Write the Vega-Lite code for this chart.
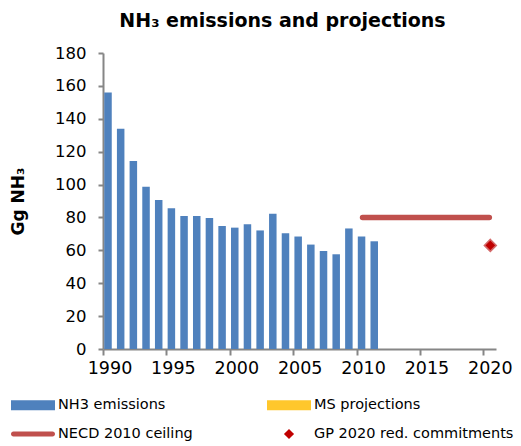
{
  "$schema": "https://vega.github.io/schema/vega-lite/v6.json",
  "autosize": {"type": "none"},
  "padding": {"left": 103, "top": 53, "right": 25, "bottom": 97},
  "width": 393,
  "height": 296,
  "background": "white",
  "title": {
    "text": "NH₃ emissions and projections",
    "font": "DejaVu Sans",
    "fontSize": 19,
    "fontWeight": "bold",
    "color": "black",
    "anchor": "middle",
    "frame": "group",
    "dx": -17,
    "offset": 14
  },
  "config": {
    "view": {"stroke": null},
    "axis": {
      "labelFont": "DejaVu Sans",
      "labelColor": "black",
      "domainColor": "#868686",
      "domainWidth": 2,
      "tickColor": "#868686",
      "tickWidth": 2,
      "grid": false,
      "titleFont": "DejaVu Sans",
      "titleColor": "black"
    },
    "legend": {
      "labelFont": "DejaVu Sans",
      "labelFontSize": 14.5,
      "labelColor": "black",
      "symbolSize": 1936,
      "symbolStrokeWidth": 0,
      "labelOffset": 3,
      "columns": 2,
      "direction": "horizontal",
      "columnPadding": 74,
      "rowPadding": -8,
      "labelLimit": 400
    }
  },
  "datasets": {
    "emissions": [
      {"year": 1990, "value": 156, "series": "NH3 emissions"},
      {"year": 1991, "value": 134, "series": "NH3 emissions"},
      {"year": 1992, "value": 114.3, "series": "NH3 emissions"},
      {"year": 1993, "value": 98.6, "series": "NH3 emissions"},
      {"year": 1994, "value": 90.6, "series": "NH3 emissions"},
      {"year": 1995, "value": 85.6, "series": "NH3 emissions"},
      {"year": 1996, "value": 80.9, "series": "NH3 emissions"},
      {"year": 1997, "value": 80.9, "series": "NH3 emissions"},
      {"year": 1998, "value": 79.7, "series": "NH3 emissions"},
      {"year": 1999, "value": 74.8, "series": "NH3 emissions"},
      {"year": 2000, "value": 73.8, "series": "NH3 emissions"},
      {"year": 2001, "value": 75.9, "series": "NH3 emissions"},
      {"year": 2002, "value": 72.1, "series": "NH3 emissions"},
      {"year": 2003, "value": 82.3, "series": "NH3 emissions"},
      {"year": 2004, "value": 70.4, "series": "NH3 emissions"},
      {"year": 2005, "value": 68.4, "series": "NH3 emissions"},
      {"year": 2006, "value": 63.5, "series": "NH3 emissions"},
      {"year": 2007, "value": 59.6, "series": "NH3 emissions"},
      {"year": 2008, "value": 57.6, "series": "NH3 emissions"},
      {"year": 2009, "value": 73.3, "series": "NH3 emissions"},
      {"year": 2010, "value": 68.4, "series": "NH3 emissions"},
      {"year": 2011, "value": 65.5, "series": "NH3 emissions"}
    ],
    "ceiling": [
      {"year": 2010, "value": 80, "series": "NECD 2010 ceiling"},
      {"year": 2020, "value": 80, "series": "NECD 2010 ceiling"}
    ],
    "commit": [
      {"year": 2020, "value": 63, "series": "GP 2020 red. commitments"}
    ]
  },
  "encoding": {
    "x": {
      "field": "year",
      "type": "quantitative",
      "scale": {"domain": [1990, 2021], "nice": false, "zero": false, "padding": 0},
      "axis": {
        "title": null,
        "values": [1990, 1995, 2000, 2005, 2010, 2015, 2020],
        "format": "d",
        "tickSize": 6,
        "labelFontSize": 17.5,
        "labelPadding": 4,
        "labelOffset": 6.5,
        "labelFlush": false
      }
    },
    "y": {
      "field": "value",
      "type": "quantitative",
      "scale": {"domain": [0, 180], "nice": false, "padding": 0},
      "axis": {
        "title": "Gg NH₃",
        "titleFontSize": 17,
        "titleFontWeight": "bold",
        "titlePadding": 27,
        "values": [0, 20, 40, 60, 80, 100, 120, 140, 160, 180],
        "tickSize": 5,
        "labelFontSize": 16.5,
        "labelPadding": 12
      }
    },
    "color": {
      "field": "series",
      "type": "nominal",
      "scale": {
        "domain": ["NH3 emissions", "MS projections", "NECD 2010 ceiling", "GP 2020 red. commitments"],
        "range": ["#4f81bd", "#ffc72c", "#c0504d", "#c00000"]
      },
      "legend": {
        "title": null,
        "orient": "none",
        "legendX": -92,
        "legendY": 330
      }
    }
  },
  "layer": [
    {
      "data": {"name": "emissions"},
      "mark": {"type": "bar", "size": 7.5, "xOffset": 5}
    },
    {
      "data": {"name": "ceiling"},
      "mark": {"type": "line", "strokeWidth": 5.5, "strokeCap": "round", "xOffset": 6}
    },
    {
      "data": {"name": "commit"},
      "mark": {"type": "point", "filled": true, "opacity": 1, "size": 2700, "xOffset": 7, "stroke": "#d46a6a", "strokeWidth": 1.5},
      "encoding": {
        "shape": {
          "field": "series",
          "type": "nominal",
          "scale": {
            "domain": ["NH3 emissions", "MS projections", "NECD 2010 ceiling", "GP 2020 red. commitments"],
            "range": [
              "M-1,-0.23H1V0.23H-1Z",
              "M-1,-0.23H1V0.23H-1Z",
              "M-0.89,-0.11H0.89A0.11,0.11 0 0 1 0.89,0.11H-0.89A0.11,0.11 0 0 1 -0.89,-0.11Z",
              "M0,-0.23L0.23,0L0,0.23L-0.23,0Z"
            ]
          },
          "legend": {
            "title": null,
            "orient": "none",
            "legendX": -92,
            "legendY": 330
          }
        }
      }
    }
  ]
}
